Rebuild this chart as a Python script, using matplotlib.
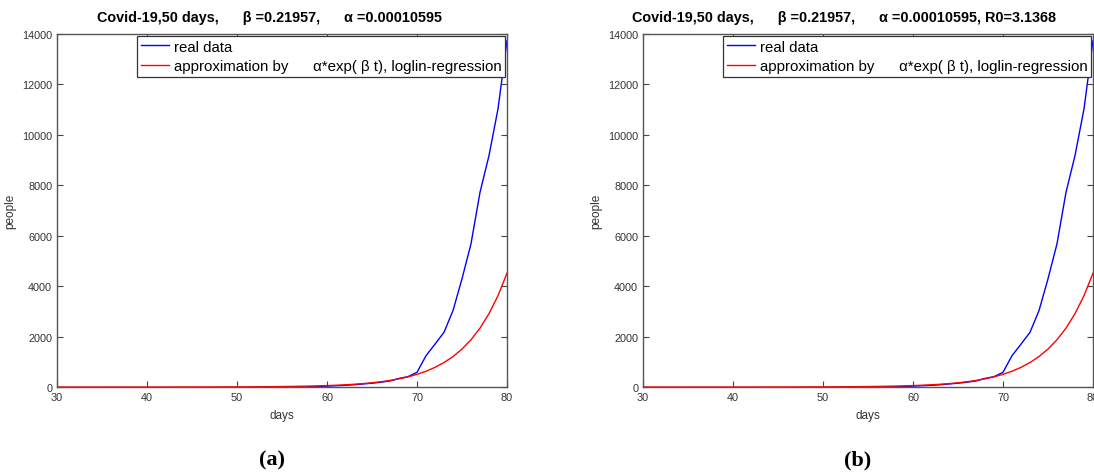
import matplotlib.pyplot as plt
import numpy as np

# reported cases (blue), days 52..80
days_real = np.arange(52, 81)
cases_real = [0, 2, 3, 3, 3, 5, 10, 20, 35, 50, 65, 90, 120, 150, 190, 240, 340, 410,
              583, 1240, 1700, 2170, 3030, 4290, 5680, 7720, 9180, 11030, 13740]

# loglin fit alpha*exp(beta*t), days 30..80
days_fit = np.arange(30, 81)
cases_fit = [0.08, 0.1, 0.12, 0.15, 0.19, 0.24, 0.3, 0.37, 0.46, 0.57,
             0.71, 0.89, 1.1, 1.4, 1.7, 2.1, 2.7, 3.3, 4.1, 5.1,
             6.2, 7.8, 9.7, 12.1, 15, 18.7, 23, 29, 36, 45,
             56, 69.5, 86.6, 108, 134, 167, 208, 260, 323, 403,
             502, 625, 779, 970, 1208, 1505, 1875, 2335, 2909, 3623, 4513]

titles = ["Covid-19,50 days,      \u03b2 =0.21957,      \u03b1 =0.00010595",
          "Covid-19,50 days,      \u03b2 =0.21957,      \u03b1 =0.00010595, R0=3.1368"]
title_x = [0.473, 0.447]
captions = ["(a)", "(b)"]
lefts = [57 / 1094, 643 / 1094]

plt.rcParams['font.family'] = ['Liberation Sans', 'DejaVu Sans']
fig = plt.figure(figsize=(10.94, 4.77), dpi=100)

for i in range(2):
    ax = fig.add_axes([lefts[i], 1 - 388 / 477, 450 / 1094, 353 / 477])
    ax.plot(days_real, cases_real, c="blue", linewidth=1, label="real data")
    ax.plot(days_fit, cases_fit, c="red", linewidth=1,
            label="approximation by      \u03b1*exp( \u03b2 t), loglin-regression")
    ax.set_xlim(30, 80)
    ax.set_ylim(0, 14000)
    ax.set_xticks(range(30, 81, 10))
    ax.set_yticks(range(0, 14001, 2000))
    ax.tick_params(direction="in", top=True, right=True, length=4,
                   labelsize=7.8, colors="#444444", labelcolor="#333333")
    for s in ax.spines.values():
        s.set_color("#555555")
        s.set_linewidth(1)
    ax.set_xlabel("days", fontsize=8.5, color="#333333", labelpad=5)
    ax.set_ylabel("people", fontsize=8.5, color="#333333", labelpad=4)
    ax.set_title(titles[i], fontsize=10.4, fontweight="bold", pad=9, x=title_x[i])
    leg = ax.legend(loc="upper right", bbox_to_anchor=(0.996, 0.995), fontsize=10.8,
                    fancybox=False, framealpha=1, edgecolor="#333333",
                    handlelength=1.9, handletextpad=0.3, borderpad=0.25,
                    labelspacing=0.35, borderaxespad=0)
    leg.get_frame().set_linewidth(0.9)
    fig.text(lefts[i] + 215 / 1094, 1 - 460 / 477, captions[i], ha="center", va="center",
             fontsize=16, fontweight="bold", family="Liberation Serif")

plt.savefig("out.png")
